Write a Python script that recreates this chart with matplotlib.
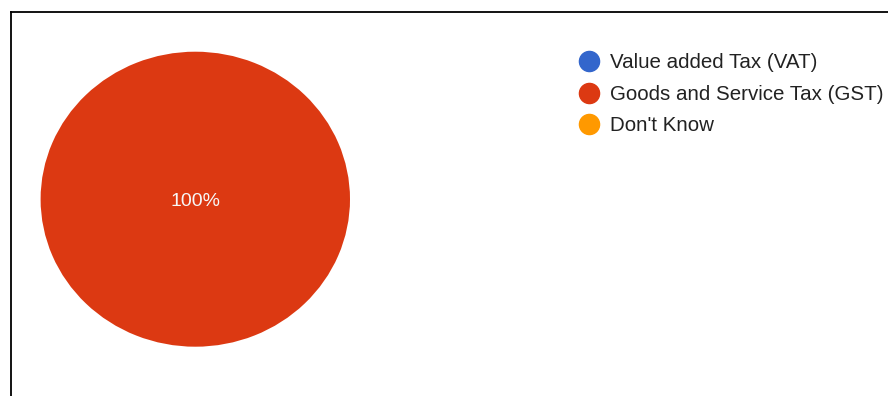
import matplotlib.pyplot as plt
from matplotlib.lines import Line2D

# Survey answers
labels = ["Value added Tax (VAT)", "Goods and Service Tax (GST)", "Don't Know"]
shares = [0, 100, 0]
colors = ["#3366CC", "#DC3912", "#FF9900"]

plt.rcParams['font.family'] = ['Liberation Sans', 'DejaVu Sans']

W, H = 888, 396
fig = plt.figure(figsize=(W / 100, H / 100), dpi=100)

# pie box in pixels (slightly wider than tall)
cx, cy, rx, ry = 195.3, 199.2, 154.7, 147.5
ax = fig.add_axes([(cx - rx) / W, (H - cy - ry) / H, 2 * rx / W, 2 * ry / H])
wedges, texts, autotexts = ax.pie(
    shares, colors=colors, startangle=90, counterclock=False, radius=1,
    autopct=lambda p: f"{p:.0f}%" if p > 0 else "", pctdistance=0,
    textprops=dict(color="#f7f7f7", fontsize=14),
    wedgeprops=dict(linewidth=0))
for t in autotexts:
    t.set_va('center_baseline')
ax.set_xlim(-1, 1)
ax.set_ylim(-1, 1)
ax.set_aspect('auto')
ax.axis('off')

# legend
fs = 14.8
handles = [Line2D([], [], marker='o', linestyle='none', markersize=14.5,
                  markerfacecolor=c, markeredgecolor=c) for c in colors]
fig.legend(handles, labels, loc='upper left', bbox_to_anchor=(570.5 / W, 1 - 53.2 / H),
           frameon=False, fontsize=fs, labelcolor='#222222', handlelength=1.8,
           handletextpad=0.1, labelspacing=0.61, borderaxespad=0, borderpad=0)

# frame lines on left and top
fig.add_artist(Line2D([10.5 / W, 10.5 / W], [0, 1 - 12 / H], color='black', lw=1.3,
                      transform=fig.transFigure))
fig.add_artist(Line2D([10.5 / W, 1], [1 - 12 / H, 1 - 12 / H], color='black', lw=1.3,
                      transform=fig.transFigure))

fig.savefig("out.png", dpi=100)
